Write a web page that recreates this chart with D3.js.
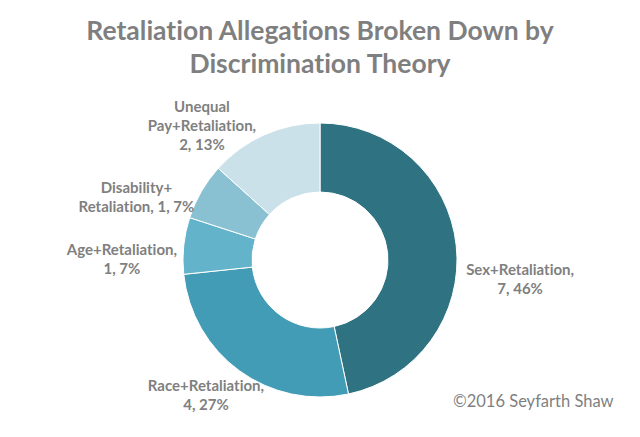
<!DOCTYPE html>
<html>
<head>
<meta charset="utf-8">
<script src="https://cdn.jsdelivr.net/npm/d3@7"></script>
<style>
  body { margin: 0; background: #fff; }
  text { font-family: Lato, "Open Sans", sans-serif; fill: #7f7f7f; font-variant-ligatures: none; font-feature-settings: "liga" 0, "dlig" 0; }
</style>
</head>
<body>
<svg id="chart"></svg>
<script>
// data
const categories = ['Sex+Retaliation', 'Race+Retaliation', 'Age+Retaliation', 'Disability+Retaliation', 'Unequal Pay+Retaliation'];
const counts = [7, 4, 1, 1, 2];
const percents = ['46%', '27%', '7%', '7%', '13%'];
const labelLines = [
    ['Sex+Retaliation,', '7, 46%'],
    ['Race+Retaliation,', '4, 27%'],
    ['Age+Retaliation,', '1, 7%'],
    ['Disability+', 'Retaliation, 1, 7%'],
    ['Unequal', 'Pay+Retaliation,', '2, 13%']
];
const colors = ['#2f7383', '#439cb5', '#63b3cb', '#89c1d3', '#cbe1ea'];

// label nudges from the outside anchor point (layout only)
const labelNudge = [[41, 36], [-20, 6], [-39, 16], [-45, 17], [-53, 12]];

const config = {
    width: 640,
    height: 437,
    cx: 320,
    cy: 260,
    outer: 137,
    inner: 68,
    labelR: 160,
    lineH: 19
};

const svg = d3.select('#chart')
    .attr('width', config.width)
    .attr('height', config.height);

// title
const title = svg.append('text')
    .attr('text-anchor', 'middle')
    .attr('font-size', 26.5)
    .attr('font-weight', 700);
title.append('tspan').attr('x', 320).attr('y', 40).text('Retaliation Allegations Broken Down by');
title.append('tspan').attr('x', 320).attr('y', 73).text('Discrimination Theory');

const rows = categories.map((c, i) => ({name: c, value: counts[i], pct: percents[i], lines: labelLines[i], color: colors[i], nudge: labelNudge[i]}));

const pie = d3.pie().sort(null).value(d => d.value);
const arc = d3.arc().innerRadius(config.inner).outerRadius(config.outer);
const labelArc = d3.arc().innerRadius(config.labelR).outerRadius(config.labelR);

const g = svg.append('g')
    .attr('transform', `translate(${config.cx},${config.cy})`);

const arcs = pie(rows);

g.selectAll('path.slice')
    .data(arcs)
    .join('path')
    .attr('class', 'slice')
    .attr('d', arc)
    .attr('fill', d => d.data.color)
    .attr('stroke', '#fff')
    .attr('stroke-width', 1);

g.selectAll('text.label')
    .data(arcs)
    .join('text')
    .attr('class', 'label')
    .attr('text-anchor', 'middle')
    .attr('font-size', 15)
    .attr('font-weight', 700)
    .each(function(d) {
        const [ax, ay] = labelArc.centroid(d);
        const x = ax + d.data.nudge[0];
        const y = ay + d.data.nudge[1];
        const n = d.data.lines.length;
        const y0 = y - (n - 1) * config.lineH / 2 + 5;
        d3.select(this).selectAll('tspan')
            .data(d.data.lines)
            .join('tspan')
            .attr('x', x)
            .attr('y', (l, i) => y0 + i * config.lineH)
            .text(l => l);
    });

// footer
svg.append('text')
    .attr('x', 453)
    .attr('y', 407)
    .attr('font-size', 16.5)
    .text('\u00a92016 Seyfarth Shaw');
</script>
</body>
</html>
